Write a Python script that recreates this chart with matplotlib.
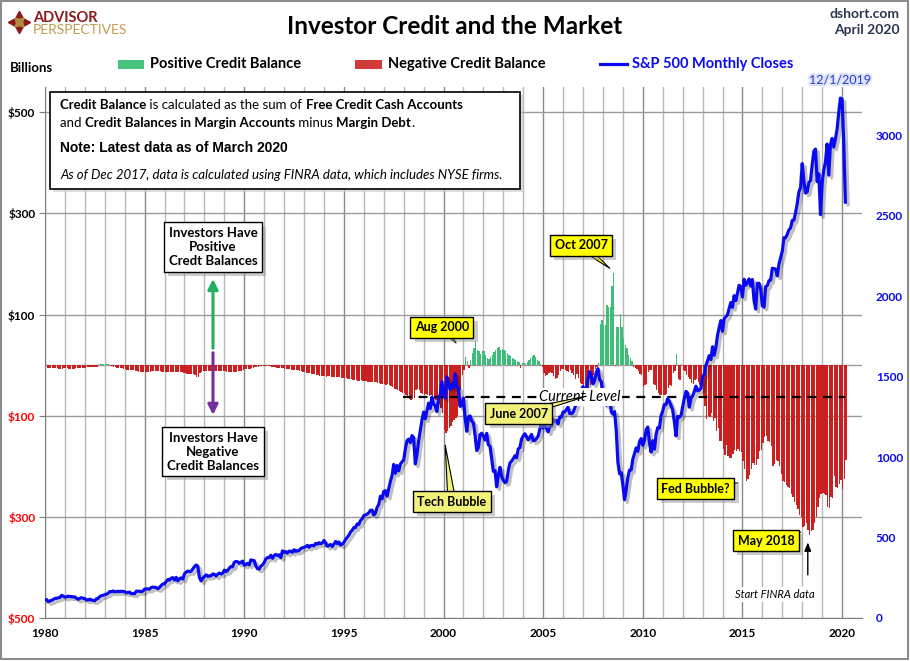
# Investor credit balance vs S&P 500 chart

import matplotlib
matplotlib.use("Agg")
import matplotlib.pyplot as plt
import matplotlib.patheffects as pe
from matplotlib.patches import Rectangle
from matplotlib.lines import Line2D
import numpy as np

plt.rcParams["font.family"] = ["Lato", "DejaVu Sans"]

# Credit balance, billions, monthly from Jan 1980
credit_1980s = [
    -6, -6, -5, -5, -5, -6, -6, -6, -7, -7, -7, -6,
    -6, -6, -7, -7, -7, -7, -6, -6, -5, -5, -5, -5,
    -5, -4, -4, -4, -4, -3, -3, -3, 2, 3, 3, 3,
    2, 2, 2, -1, -2, -3, -4, -5, -5, -6, -6, -7,
    -8, -9, -9, -9, -9, -10, -11, -12, -13, -13, -14, -14,
    -14, -14, -13, -13, -12, -12, -12, -12, -12, -12, -13, -13,
    -13, -14, -14, -14, -13, -13, -13, -13, -14, -14, -14, -15,
    -16, -17, -17, -17, -17, -18, -20, -23, -24, -15, -13, -12,
    -12, -12, -12, -11, -11, -11, -11, -11, -11, -11, -12, -12,
    -12, -13, -13, -14, -14, -14, -13, -13, -12, -11, -11, -10,
]
credit_1990s = [
    -8, -8, -7, -7, -6, -5, -4, -3, -3, -2, -2, -2,
    -2, -2, -2, -2, -3, -3, -4, -5, -5, -5, -6, -6,
    -7, -7, -8, -8, -9, -9, -9, -10, -10, -11, -12, -13,
    -14, -15, -15, -16, -17, -18, -18, -19, -20, -21, -21, -22,
    -22, -23, -22, -22, -23, -23, -23, -24, -24, -24, -25, -25,
    -25, -26, -27, -28, -28, -29, -30, -30, -31, -31, -30, -31,
    -32, -32, -33, -33, -34, -34, -33, -34, -35, -36, -37, -38,
    -38, -39, -37, -40, -42, -44, -47, -48, -50, -52, -54, -55,
    -56, -60, -63, -66, -68, -66, -65, -50, -48, -50, -55, -58,
    -60, -58, -60, -62, -60, -64, -66, -68, -72, -76, -85, -95,
]
credit_2000s = [
    -128, -135, -130, -125, -120, -112, -108, -104, -100, -80, -50, -20,
    -10, 17, 8, -5, 10, 25, 34, 47, 30, 28, 22, 27,
    27, 20, 14, 12, 16, 21, 26, 30, 33, 36, 30, 32,
    30, 28, 24, 20, 18, 14, 12, 10, 8, 6, -5, 4,
    5, 3, 6, 10, 14, 18, 21, 17, 11, 8, 3, -3,
    -15, -21, -20, -15, -14, -16, -22, -28, -25, -20, -12, -8,
    -8, -10, -12, -14, -10, -15, -20, -28, -18, -25, -35, -38,
    -40, -42, -38, -45, -40, -30, -20, -8, -3, 5, 82, 89,
    79, 79, 118, 115, 115, 157, 183, -2, 76, 76, 102, 76,
    53, 40, 34, 21, 15, 8, -3, -5, -8, -12, -18, -20,
]
credit_2010s = [
    -43, -40, -37, -13, -10, -10, -37, -40, -50, -55, -60, -60,
    -60, -60, -58, -45, -40, -42, -15, -12, 22, -27, -30, 2,
    -10, -12, -20, -23, -28, -35, -37, -30, -28, -33, -40, -45,
    -63, -80, -107, -100, -103, -95, -110, -105, -130, -125, -150, -150,
    -165, -177, -157, -180, -183, -183, -175, -167, -170, -165, -170, -172,
    -190, -205, -230, -225, -217, -205, -193, -197, -198, -185, -170, -167,
    -153, -143, -140, -150, -152, -160, -200, -195, -187, -190, -200, -215,
    -230, -232, -237, -240, -243, -255, -260, -270, -277, -285, -297, -300,
    -320, -318, -313, -325, -335, -327, -325, -313, -300, -280, -263, -255,
    -253, -255, -257, -280, -283, -260, -262, -220, -240, -243, -235, -227,
]
credit_2020 = [-245, -225, -187]

# S&P 500 monthly closes from Jan 1980
spx_1980s = [
    114.2, 113.7, 102.1, 106.3, 111.2, 114.2, 121.7, 122.4, 125.5, 127.5, 140.5, 135.8,
    129.6, 131.3, 136.0, 133.0, 133.0, 131.2, 130.9, 122.8, 116.2, 121.9, 126.4, 122.6,
    120.4, 113.1, 112.0, 116.4, 111.9, 109.6, 107.1, 119.5, 120.4, 133.7, 138.5, 140.6,
    145.3, 148.1, 153.0, 164.4, 162.4, 168.1, 162.6, 164.4, 166.1, 163.6, 166.4, 164.9,
    163.4, 157.1, 159.2, 160.1, 150.6, 153.2, 150.7, 166.7, 166.1, 166.1, 163.6, 167.2,
    179.6, 181.2, 180.7, 179.8, 189.6, 191.9, 190.9, 188.6, 182.1, 189.8, 202.2, 211.3,
    211.8, 226.9, 238.9, 235.5, 247.4, 250.8, 236.1, 252.9, 231.3, 244.0, 249.2, 242.2,
    274.1, 284.2, 291.7, 288.4, 290.1, 304.0, 318.7, 329.8, 321.8, 251.8, 230.3, 247.1,
    257.1, 267.8, 258.9, 261.3, 262.2, 273.5, 272.0, 261.5, 271.9, 279.0, 273.7, 277.7,
    297.5, 288.9, 294.9, 309.6, 320.5, 318.0, 346.1, 351.5, 349.2, 340.4, 346.0, 353.4,
]
spx_1990s = [
    329.1, 331.9, 339.9, 330.8, 361.2, 358.0, 356.2, 322.6, 306.1, 304.0, 322.2, 330.2,
    343.9, 367.1, 375.2, 375.3, 389.8, 371.2, 387.8, 395.4, 387.9, 392.5, 375.2, 417.1,
    408.8, 412.7, 403.7, 415.0, 415.4, 408.1, 424.2, 414.0, 417.8, 418.7, 431.4, 435.7,
    438.8, 443.4, 451.7, 440.2, 450.2, 451.0, 448.1, 463.6, 458.9, 467.8, 461.8, 466.5,
    481.6, 467.1, 445.8, 450.9, 456.5, 444.3, 458.3, 475.5, 462.7, 472.4, 453.7, 459.3,
    470.4, 487.4, 500.7, 514.7, 533.4, 544.8, 562.1, 561.9, 584.4, 581.5, 605.4, 615.9,
    636.0, 640.4, 645.5, 654.2, 669.1, 670.6, 640.0, 652.0, 687.3, 705.3, 757.0, 740.7,
    786.2, 790.8, 757.1, 801.3, 848.3, 885.1, 954.3, 899.5, 947.3, 914.6, 955.4, 970.4,
    980.3, 1049.3, 1101.8, 1111.8, 1090.8, 1133.8, 1120.7, 957.3, 1017.0, 1098.7, 1163.6, 1229.2,
    1279.6, 1238.3, 1286.4, 1335.2, 1301.8, 1372.7, 1328.7, 1320.4, 1282.7, 1362.9, 1388.9, 1469.3,
]
spx_2000s = [
    1394.5, 1366.4, 1498.6, 1452.4, 1420.6, 1454.6, 1430.8, 1517.7, 1436.5, 1429.4, 1315.2, 1320.3,
    1366.0, 1239.9, 1160.3, 1249.5, 1255.8, 1224.4, 1211.2, 1133.6, 1040.9, 1059.8, 1139.5, 1148.1,
    1130.2, 1106.7, 1147.4, 1076.9, 1067.1, 989.8, 911.6, 916.1, 815.3, 885.8, 936.3, 879.8,
    855.7, 841.2, 848.2, 916.9, 963.6, 974.5, 990.3, 1008.0, 996.0, 1050.7, 1058.2, 1111.9,
    1131.1, 1144.9, 1126.2, 1107.3, 1120.7, 1140.8, 1101.7, 1104.2, 1114.6, 1130.2, 1173.8, 1211.9,
    1181.3, 1203.6, 1180.6, 1156.9, 1191.5, 1191.3, 1234.2, 1220.3, 1228.8, 1207.0, 1249.5, 1248.3,
    1280.1, 1280.7, 1294.8, 1310.6, 1270.1, 1270.2, 1276.7, 1303.8, 1335.9, 1377.9, 1400.6, 1418.3,
    1438.2, 1406.8, 1420.9, 1482.4, 1530.6, 1503.4, 1455.3, 1474.0, 1527.3, 1549.4, 1481.1, 1468.4,
    1378.6, 1330.6, 1322.7, 1385.6, 1400.4, 1280.0, 1267.4, 1282.8, 1166.4, 968.8, 896.2, 903.3,
    825.9, 735.1, 797.9, 872.8, 919.1, 919.3, 987.5, 1020.6, 1057.1, 1036.2, 1095.6, 1115.1,
]
spx_2010s = [
    1073.9, 1104.5, 1169.4, 1186.7, 1089.4, 1030.7, 1101.6, 1049.3, 1141.2, 1183.3, 1180.6, 1257.6,
    1286.1, 1327.2, 1325.8, 1363.6, 1345.2, 1320.6, 1292.3, 1218.9, 1131.4, 1253.3, 1247.0, 1257.6,
    1312.4, 1365.7, 1408.5, 1397.9, 1310.3, 1362.2, 1379.3, 1406.6, 1440.7, 1412.2, 1416.2, 1426.2,
    1498.1, 1514.7, 1569.2, 1597.6, 1630.7, 1606.3, 1685.7, 1633.0, 1681.6, 1756.5, 1805.8, 1848.4,
    1782.6, 1859.5, 1872.3, 1884.0, 1923.6, 1960.2, 1930.7, 2003.4, 1972.3, 2018.1, 2067.6, 2058.9,
    1995.0, 2104.5, 2067.9, 2085.5, 2107.4, 2063.1, 2103.8, 1972.2, 1920.0, 2079.4, 2080.4, 2043.9,
    1940.2, 1932.2, 2059.7, 2065.3, 2097.0, 2098.9, 2173.6, 2171.0, 2168.3, 2126.2, 2199.0, 2238.8,
    2278.9, 2363.6, 2362.7, 2384.2, 2411.8, 2423.4, 2470.3, 2471.7, 2519.4, 2575.3, 2647.6, 2673.6,
    2823.8, 2713.8, 2640.9, 2648.1, 2705.3, 2718.4, 2816.3, 2901.5, 2914.0, 2711.7, 2760.2, 2506.9,
    2704.1, 2784.5, 2834.4, 2945.8, 2752.1, 2941.8, 2980.4, 2926.5, 2976.7, 3037.6, 3141.0, 3230.8,
]
spx_2020 = [3225.5, 2954.2, 2584.6]

left_ticks = [500, 300, 100, -100, -300, -500]
left_labels = ["$500", "$300", "$100", "$100", "$300", "$500"]
right_ticks = [0, 500, 1000, 1500, 2000, 2500, 3000]
year_ticks = list(range(1980, 2021, 5))

credit = np.array(credit_1980s + credit_1990s + credit_2000s + credit_2010s + credit_2020, dtype=float)
spx = np.array(spx_1980s + spx_1990s + spx_2000s + spx_2010s + spx_2020)
t_credit = 1980 + np.arange(len(credit)) / 12
t_spx = 1980 + np.arange(len(spx)) / 12

GREEN = "#3dbf79"
RED = "#cc1f1f"
BLUE = "#0a0af0"

fig = plt.figure(figsize=(9.1, 6.61), dpi=100)
ax = fig.add_axes([45 / 910, 1 - 618 / 661, 817 / 910, 531 / 661])
ax2 = ax.twinx()

# Bars
pos = credit > 0
ax.bar(t_credit[pos], credit[pos], width=0.068, align="edge", color=GREEN, lw=0)
ax.bar(t_credit[~pos], credit[~pos], width=0.068, align="edge", color=RED, lw=0)

ax.set_xlim(1980, 2021)
ax.set_ylim(-500, 550)
ax.set_axisbelow(True)
ax.set_xticks(year_ticks)
ax.set_xticks(range(1980, 2021), minor=True)
ax.set_xticklabels([str(y) for y in year_ticks], fontsize=8.5, fontweight="bold")
ax.set_yticks(left_ticks)
ax.set_yticklabels(left_labels, fontsize=8.5, fontweight="bold")
for lab, v in zip(ax.get_yticklabels(), left_ticks):
    lab.set_color("black" if v > 0 else "#ff0000")
ax.grid(which="major", axis="x", color="#8a8a8a", lw=1)
ax.grid(which="minor", axis="x", color="#b8b8b8", lw=1)
ax.grid(which="major", axis="y", color="#9a9a9a", lw=1)
ax.axhline(0, color="#9a9a9a", lw=1, zorder=0.5)
ax.tick_params(axis="x", which="both", length=0, pad=7)
ax.tick_params(axis="y", length=4, color="#7f7f7f", pad=3)
for s in ["top", "right"]:
    ax.spines[s].set_visible(False)
for s in ["left", "bottom"]:
    ax.spines[s].set_color("#7f7f7f")

# S&P line
ax2.plot(t_spx, spx, color=BLUE, lw=2.3, solid_joinstyle="round",
         path_effects=[pe.SimpleLineShadow(offset=(2, -2), alpha=0.25), pe.Normal()])
ax2.set_ylim(0, 3300)
ax2.set_yticks(right_ticks)
ax2.set_yticklabels([str(v) for v in right_ticks], fontsize=8.5, fontweight="bold", color=BLUE)
ax2.tick_params(axis="y", length=0, pad=10)
for s in ax2.spines.values():
    s.set_visible(False)

# Current level line
ax.plot([1997.95, 2020.15], [-63, -63], color="black", lw=1.6, ls=(0, (4, 3)), zorder=5)
ax2.text(2006.85, -63, "Current Level", transform=ax.transData, ha="center", va="center",
         fontsize=10.5, style="italic", zorder=6,
         bbox=dict(boxstyle="square,pad=0.12", fc="white", ec="none"))

box_shadow = [pe.SimplePatchShadow(offset=(3, -3), shadow_rgbFace="#999999", alpha=0.5), pe.Normal()]


def shadow_box(x, y, text, fc, size=9):
    t = ax2.annotate(text, xy=(x, y), xycoords=ax.transData, ha="center", va="center",
                     fontsize=size, fontweight="bold", zorder=7,
                     bbox=dict(boxstyle="square,pad=0.35", fc=fc, ec="black", lw=1))
    t.get_bbox_patch().set_path_effects(box_shadow)
    return t


def callout(x, y, tx, ty, text, fc):
    ax2.annotate("", xy=(tx, ty), xycoords=ax.transData, xytext=(x, y), textcoords=ax.transData,
                 arrowprops=dict(arrowstyle="wedge,tail_width=0.55,shrink_factor=0.5",
                                 fc=fc, ec="black", lw=0.8), zorder=6)
    shadow_box(x, y, text, fc)


callout(1999.92, 75, 2000.72, 40, "Aug 2000", "#ffff00")
callout(2006.9, 237, 2008.45, 188, "Oct 2007", "#ffff00")
callout(2003.78, -96, 2007.3, -60, "June 2007", "#f2f27a")
callout(2000.42, -270, 2000.07, -153, "Tech Bubble", "#f2f27a")
callout(2012.66, -244, 2014.9, -232, "Fed Bubble?", "#ffff00")
callout(2016.18, -347, 2018.05, -329, "May 2018", "#ffff00")

# Investors have boxes and arrows
ax.annotate("", xy=(1988.43, 176), xytext=(1988.43, 28),
            arrowprops=dict(arrowstyle="-|>,head_width=0.3,head_length=0.6", color="#22b060", lw=2.2), zorder=6)
ax.annotate("", xy=(1988.43, -104), xytext=(1988.43, 30),
            arrowprops=dict(arrowstyle="-|>,head_width=0.3,head_length=0.6", color="#7030a0", lw=2.2), zorder=6)
shadow_box(1988.43, 233.5, "Investors Have\nPositive\nCredt Balances", "white", 9.5)
shadow_box(1988.43, -171, "Investors Have\nNegative\nCredit Balances", "white", 9.5)

# FINRA note
ax.annotate("", xy=(2018.28, -345), xytext=(2018.28, -420),
            arrowprops=dict(arrowstyle="-|>,head_width=0.2,head_length=0.5", color="black", lw=1), zorder=6)
ax.text(2016.63, -453, "Start FINRA data", ha="center", va="center", fontsize=8, style="italic", zorder=6,
        bbox=dict(boxstyle="square,pad=0.2", fc="white", ec="none"))

# Overlay in pixel coordinates for page decorations
ov = fig.add_axes([0, 0, 1, 1], zorder=10)
ov.set_xlim(0, 910)
ov.set_ylim(661, 0)
ov.axis("off")

ov.add_patch(Rectangle((1, 1), 907, 658, fill=False, ec="#8c8c8c", lw=1.5))

# logo
ov.plot(19, 22, marker=(4, 1, 0), ms=16, color="#8b1a1a")
ov.plot(19, 22, marker=(4, 1, 45), ms=9, color="#b08a3e")
ov.text(33, 18, "ADVISOR", fontsize=10.5, fontweight="bold", color="#8b1a1a", va="center")
ov.text(33, 30, "PERSPECTIVES", fontsize=10, color="#c29b4f", va="center")

ov.text(455, 27, "Investor Credit and the Market", fontsize=17.5, fontweight="bold", ha="center", va="center")
ov.text(900, 14, "dshort.com", fontsize=10, fontweight="bold", ha="right", va="center", color="#2a3550")
ov.text(900, 30, "April 2020", fontsize=10, fontweight="bold", ha="right", va="center", color="#2a3550")

# legend row
ov.text(10, 68, "Billions", fontsize=9.5, fontweight="bold", va="center")
ov.add_patch(Rectangle((118, 60), 26, 9, fc="#46c37e", ec="none"))
ov.text(150, 64, "Positive Credit Balance", fontsize=10.5, fontweight="bold", va="center")
ov.add_patch(Rectangle((355, 60), 27, 9, fc="#d33a3a", ec="none"))
ov.text(388, 64, "Negative Credit Balance", fontsize=10.5, fontweight="bold", va="center")
ov.add_line(Line2D([600, 627], [64, 64], color=BLUE, lw=2.3))
ov.text(632, 64, "S&P 500 Monthly Closes", fontsize=10.5, fontweight="bold", va="center", color=BLUE)

ov.text(840, 80, "12/1/2019", fontsize=9, ha="center", va="center", color="#2a3fd8",
        path_effects=[pe.withStroke(linewidth=3, foreground="#dde3f5")])

# info box
ov.add_patch(Rectangle((53, 95), 470, 97, fc="#c8c8c8", ec="none", alpha=0.6))
ov.add_patch(Rectangle((50, 92), 470, 97, fc="white", ec="black", lw=1.2))


def rich_line(x, y, pieces, size):
    prev = None
    for txt, weight in pieces:
        if prev is None:
            prev = ov.text(x, y, txt, fontsize=size, fontweight=weight, va="bottom", ha="left")
        else:
            prev = ov.annotate(txt, xy=(1, 0), xycoords=prev, fontsize=size, fontweight=weight,
                               va="bottom", ha="left")


rich_line(60, 111, [("Credit Balance", "bold"), (" is calculated as the sum of ", "normal"),
                    ("Free Credit Cash Accounts", "bold")], 9.5)
rich_line(60, 129, [("and ", "normal"), ("Credit Balances in Margin Accounts", "bold"),
                    (" minus ", "normal"), ("Margin Debt", "bold"), (".", "normal")], 9.5)
ov.text(60, 148, "Note: Latest data as of March 2020", fontsize=10, fontweight="bold",
        family=["Liberation Sans", "DejaVu Sans"], va="center")
ov.text(60, 175, "As of Dec 2017, data is calculated using FINRA data, which includes NYSE firms.",
        fontsize=9.5, style="italic", va="center")

fig.savefig("out.png", dpi=100)
